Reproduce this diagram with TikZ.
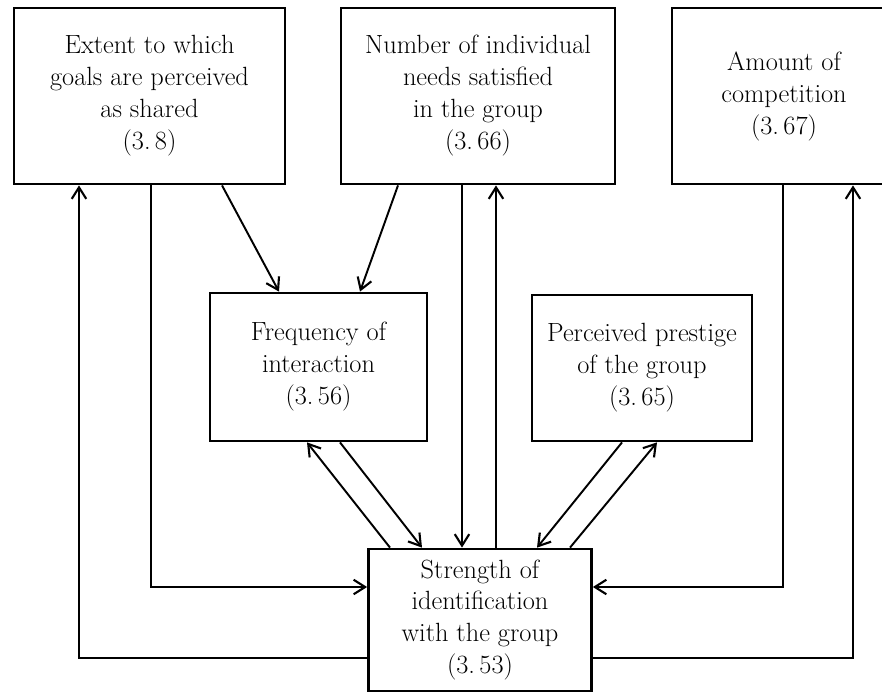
\documentclass[tikz,border=0pt]{standalone}
\usepackage{amsmath}
\usepackage{fontspec}
\usepackage{tikz}
\usetikzlibrary{arrows.meta}

\begin{document}
\begin{tikzpicture}[x=0.02cm,y=-0.02cm,
                    box/.style={draw,line width=1.6pt,align=center,inner sep=0pt,
                                font=\fontsize{15}{18.2}\selectfont},
                    link/.style={line width=1.1pt},
                    arr/.style={link,-{Straight Barb[length=2.3mm,width=2.9mm,line width=1.2pt]}}]
                    \path[use as bounding box,clip] (0,0) rectangle (882,693);

                    \node[box,minimum width=5.42cm,minimum height=3.52cm] (goals) at (149.5,96)
                        {Extent to which\\goals are perceived\\as shared\\(3.\,8)};
                    \node[box,minimum width=5.48cm,minimum height=3.52cm] (needs) at (478,96)
                        {Number of individual\\needs satisfied\\in the group\\(3.\,66)};
                    \node[box,minimum width=4.48cm,minimum height=3.52cm] (comp) at (784,96)
                        {Amount of\\competition\\(3.\,67)};
                    \node[box,minimum width=4.34cm,minimum height=2.96cm] (freq) at (318.5,367)
                        {Frequency of\\interaction\\(3.\,56)};
                    \node[box,minimum width=4.40cm,minimum height=2.92cm] (prestige) at (642,368)
                        {Perceived prestige\\of the group\\(3.\,65)};
                    \node[box,minimum width=4.46cm,minimum height=2.84cm] (ident) at (480,620)
                        {Strength of\\identification\\with the group\\(3.\,53)};

                    \draw[arr] (222,0 |- goals.south) -- (279,0 |- freq.north);
                    \draw[arr] (398,0 |- needs.south) -- (360,0 |- freq.north);
                    \draw[arr] (ident.west |- 0,658) -| (79,0 |- goals.south);
                    \draw[arr] (151,0 |- goals.south) |- (ident.west |- 0,587);
                    \draw[arr] (340,0 |- freq.south) -- (422,0 |- ident.north);
                    \draw[arr] (390,0 |- ident.north) -- (307,0 |- freq.south);
                    \draw[arr] (462,0 |- needs.south) -- (462,0 |- ident.north);
                    \draw[arr] (496,0 |- ident.north) -- (496,0 |- needs.south);
                    \draw[arr] (622,0 |- prestige.south) -- (537,0 |- ident.north);
                    \draw[arr] (570,0 |- ident.north) -- (657,0 |- prestige.south);
                    \draw[arr] (783,0 |- comp.south) |- (ident.east |- 0,587);
                    \draw[arr] (ident.east |- 0,658) -| (853,0 |- comp.south);
                \end{tikzpicture}
\end{document}
